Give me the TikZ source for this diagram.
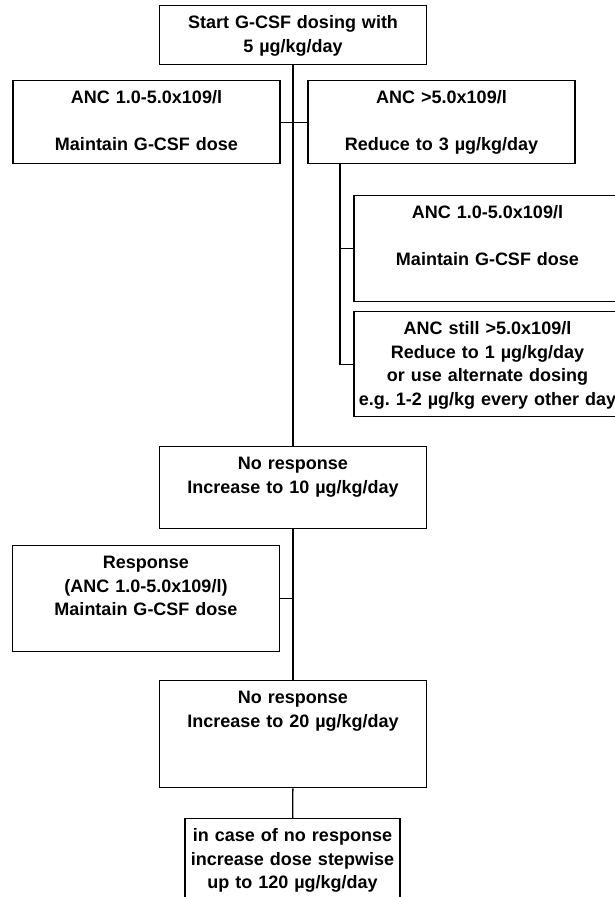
\documentclass[tikz,border=0pt]{standalone}
\usepackage{fontspec}
\setmainfont{Liberation Sans}
\frenchspacing

\begin{document}
\begin{tikzpicture}[x=1pt, y=-1pt, line width=1.4pt,
  box/.style={draw, anchor=north, inner sep=0pt, minimum width=267pt, text width=267pt, align=center, text height=23pt, font=\bfseries\fontsize{18}{23.5}\selectfont}]
\useasboundingbox (0,0) rectangle (615,897);
\clip (0,0) rectangle (615,897);

\node[box, text depth=36pt] (start) at (293,5) {Start G-CSF dosing with\\5 µg/kg/day};
\node[box, text depth=60pt] (anc) at (146.5,80) {ANC 1.0-5.0x109/l\\[23.5pt]Maintain G-CSF dose};
\node[box, text depth=60pt] (reduce3) at (441.5,80) {ANC >5.0x109/l\\[23.5pt]Reduce to 3 µg/kg/day};
\node[box, text depth=83pt] (anc2) at (487.5,195) {ANC 1.0-5.0x109/l\\[23.5pt]Maintain G-CSF dose};
\node[box, text depth=82pt] (reduce1) at (487.5,311) {ANC still >5.0x109/l\\Reduce to 1 µg/kg/day\\or use alternate dosing\\e.g. 1-2 µg/kg every other day};
\node[box, text depth=59pt] (inc10) at (293,446) {No response\\Increase to 10 µg/kg/day};
\node[box, text depth=83pt] (resp) at (146,545) {Response\\(ANC 1.0-5.0x109/l)\\Maintain G-CSF dose};
\node[box, text depth=84pt] (inc20) at (293,680) {No response\\Increase to 20 µg/kg/day};
\node[box, text depth=87pt, minimum width=215pt, text width=215pt] (stepwise) at (292.5,818) {in case of no response\\increase dose stepwise\\up to 120 µg/kg/day};

\coordinate (fork) at (340,163);

\draw (start) -- (inc10);
\draw (anc) -- (reduce3);
\draw (fork) |- (reduce1.west);
\draw (fork |- anc2.west) -- (anc2.west);
\draw (inc10) -- (inc20);
\draw (resp.east) -- (resp.east -| inc10.south);
\draw (inc20) -- (stepwise);
\end{tikzpicture}
\end{document}
